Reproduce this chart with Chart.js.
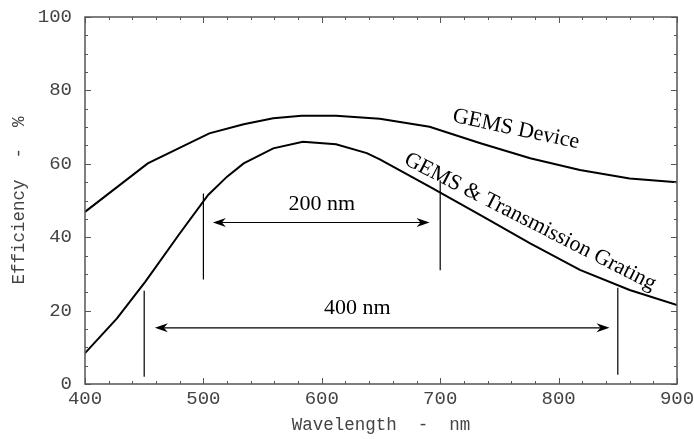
<!DOCTYPE html>
<html><head><meta charset="utf-8">
<script src="https://cdn.jsdelivr.net/npm/chart.js@4.4.1/dist/chart.umd.min.js"></script>
<style>html,body{margin:0;padding:0;background:#fff}#wrap{width:694px;height:439px;position:relative}</style>
</head><body><div id="wrap"><canvas id="c"></canvas></div>
<script>
// ---- data ----
const deviceWavelengths = [400, 453, 505, 534, 559, 583, 612, 649, 691, 734, 776, 818, 860, 900];
const deviceEfficiency  = [46.9, 60.1, 68.3, 70.8, 72.4, 73.1, 73.1, 72.3, 70.1, 65.6, 61.5, 58.3, 56.0, 55.0];
const gratingWavelengths = [400, 427, 451, 480, 504, 520, 534, 559, 584, 612, 638, 649, 691, 734, 776, 818, 860, 900];
const gratingEfficiency  = [8.4, 17.9, 27.9, 41.0, 51.5, 56.5, 60.1, 64.2, 66.0, 65.3, 62.9, 61.2, 53.8, 46.0, 38.3, 31.1, 25.6, 21.5];
const xTickLabels = [400, 500, 600, 700, 800, 900];
const yTickLabels = [0, 20, 40, 60, 80, 100];
const markerX    = [500, 700, 450, 850];
const markerLow  = [28.5, 31.0, 2.0, 2.5];
const markerHigh = [51.9, 55.5, 25.4, 26.2];
const arrowFrom  = [508, 459];
const arrowTo    = [691, 843];
const arrowLevel = [44.0, 15.3];
const arrowText  = ['200 nm', '400 nm'];
const arrowTextX = [600, 630];
const arrowTextY = [49.0, 20.7];
const curveText  = ['GEMS Device', 'GEMS & Transmission Grating'];
const curveTextX = [764, 776];
const curveTextY = [69.4, 44.2];
const curveTextAngle = [12, 27];

const toPoints = (xs, ys) => xs.map((v, i) => ({x: v, y: ys[i]}));

const overlay = {
  id: 'overlay',
  afterDraw(chart) {
    const {ctx, chartArea: a, scales: {x, y}} = chart;
    ctx.save();
    // frame
    ctx.strokeStyle = '#555';
    ctx.lineWidth = 1.5;
    ctx.strokeRect(a.left, a.top, a.right - a.left, a.bottom - a.top);
    // ticks
    ctx.lineWidth = 1;
    ctx.beginPath();
    for (let v = x.min; v <= x.max; v += 20) {
      const px = Math.round(x.getPixelForValue(v)) + 0.5;
      const L = v % 100 === 0 ? 6 : 3;
      ctx.moveTo(px, a.bottom); ctx.lineTo(px, a.bottom - L);
      ctx.moveTo(px, a.top); ctx.lineTo(px, a.top + L);
    }
    for (let v = y.min; v <= y.max; v += 5) {
      const py = Math.round(y.getPixelForValue(v)) + 0.5;
      const L = v % 20 === 0 ? 6 : 3;
      ctx.moveTo(a.left, py); ctx.lineTo(a.left + L, py);
      ctx.moveTo(a.right, py); ctx.lineTo(a.right - L, py);
    }
    ctx.stroke();
    // marker lines
    ctx.strokeStyle = '#000';
    ctx.lineWidth = 1.2;
    ctx.beginPath();
    markerX.forEach((mx, i) => {
      const px = x.getPixelForValue(mx);
      ctx.moveTo(px, y.getPixelForValue(markerLow[i]));
      ctx.lineTo(px, y.getPixelForValue(markerHigh[i]));
    });
    ctx.stroke();
    // arrows
    const head = (tx, ty, dir) => {
      ctx.beginPath();
      ctx.moveTo(tx, ty);
      ctx.lineTo(tx + dir * 13, ty - 4.5);
      ctx.lineTo(tx + dir * 9, ty);
      ctx.lineTo(tx + dir * 13, ty + 4.5);
      ctx.closePath();
      ctx.fill();
    };
    ctx.fillStyle = '#000';
    arrowFrom.forEach((f, i) => {
      const x1 = x.getPixelForValue(f), x2 = x.getPixelForValue(arrowTo[i]);
      const py = y.getPixelForValue(arrowLevel[i]);
      ctx.beginPath();
      ctx.moveTo(x1 + 8, py); ctx.lineTo(x2 - 8, py);
      ctx.stroke();
      head(x1, py, 1);
      head(x2, py, -1);
    });
    // texts
    ctx.font = '22px "Liberation Serif", "Times New Roman", serif';
    ctx.textAlign = 'center';
    ctx.textBaseline = 'middle';
    arrowText.forEach((t, i) => {
      ctx.fillText(t, x.getPixelForValue(arrowTextX[i]), y.getPixelForValue(arrowTextY[i]));
    });
    curveText.forEach((t, i) => {
      ctx.save();
      ctx.translate(x.getPixelForValue(curveTextX[i]), y.getPixelForValue(curveTextY[i]));
      ctx.rotate(curveTextAngle[i] * Math.PI / 180);
      ctx.fillText(t, 0, 0);
      ctx.restore();
    });
    ctx.restore();
  }
};

const monoFont = {family: '"Liberation Mono", "Courier New", monospace', size: 19};
const titleFont = {family: '"Liberation Mono", "Courier New", monospace', size: 17.5};

new Chart(document.getElementById('c'), {
  type: 'line',
  data: {
    datasets: [
      {label: 'GEMS Device', data: toPoints(deviceWavelengths, deviceEfficiency)},
      {label: 'GEMS & Transmission Grating', data: toPoints(gratingWavelengths, gratingEfficiency)}
    ]
  },
  options: {
    responsive: true,
    maintainAspectRatio: false,
    animation: false,
    layout: {padding: {top: 17, right: 17, left: 0, bottom: 0}},
    elements: {
      line: {borderColor: '#000', borderWidth: 2, tension: 0, fill: false},
      point: {radius: 0, hoverRadius: 0}
    },
    plugins: {legend: {display: false}, tooltip: {enabled: false}},
    scales: {
      x: {
        type: 'linear', min: 400, max: 900,
        grid: {display: false, drawTicks: false},
        border: {display: false},
        afterBuildTicks: s => { s.ticks = xTickLabels.map(v => ({value: v})); },
        afterFit: s => { s.height = 55; s.paddingLeft = 0; s.paddingRight = 0; },
        ticks: {font: monoFont, color: '#444', padding: 4, maxRotation: 0, autoSkip: false},
        title: {display: true, text: 'Wavelength  -  nm', font: titleFont, color: '#444', padding: {top: 0, bottom: 3}}
      },
      y: {
        min: 0, max: 100,
        grid: {display: false, drawTicks: false},
        border: {display: false},
        afterBuildTicks: s => { s.ticks = yTickLabels.map(v => ({value: v})); },
        afterFit: s => { s.width = 85; s.paddingTop = 0; s.paddingBottom = 0; },
        ticks: {font: monoFont, color: '#444', padding: 13},
        title: {display: true, text: 'Efficiency  -  %', font: titleFont, color: '#444', padding: {top: 9, bottom: 0}}
      }
    }
  },
  plugins: [overlay]
});
</script>
</body></html>
